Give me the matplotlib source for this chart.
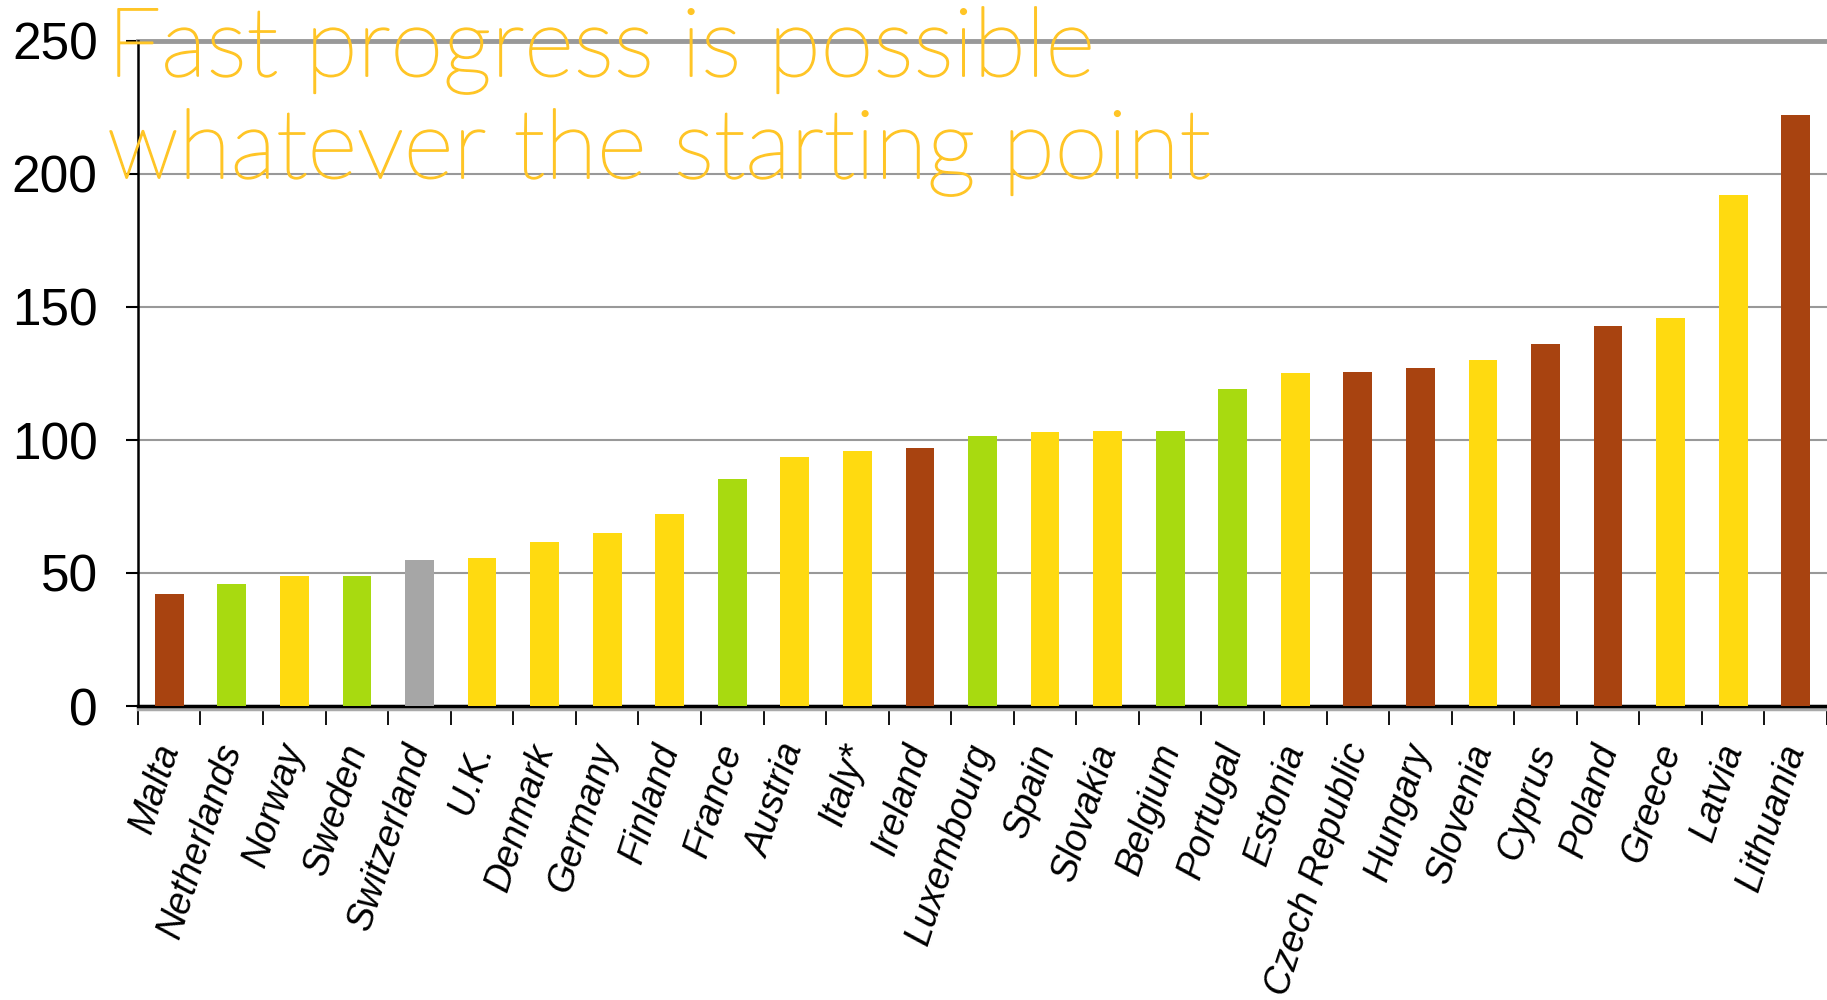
import numpy as np
import matplotlib
matplotlib.use('Agg')
import matplotlib.pyplot as plt
import matplotlib.patheffects as pe
from matplotlib import font_manager

countries = ['Malta', 'Netherlands', 'Norway', 'Sweden', 'Switzerland', 'U.K.',
             'Denmark', 'Germany', 'Finland', 'France', 'Austria', 'Italy*',
             'Ireland', 'Luxembourg', 'Spain', 'Slovakia', 'Belgium', 'Portugal',
             'Estonia', 'Czech Republic', 'Hungary', 'Slovenia', 'Cyprus',
             'Poland', 'Greece', 'Latvia', 'Lithuania']
values = [42, 46, 49, 49, 55, 55.5, 61.5, 65, 72, 85.5, 93.5, 96,
          97, 101.5, 103, 103.5, 103.5, 119, 125, 125.5, 127, 130, 136,
          143, 146, 192, 222]
groups = ['b', 'g', 'y', 'g', 's', 'y', 'y', 'y', 'y', 'g', 'y', 'y',
          'b', 'g', 'y', 'y', 'g', 'g', 'y', 'b', 'b', 'y', 'b',
          'b', 'y', 'y', 'b']
group_colors = {'b': '#A84310', 'g': '#A8DA10', 'y': '#FFDA10', 's': '#A6A6A6'}
yticks = [0, 50, 100, 150, 200, 250]
title_lines = ['Fast progress is possible', 'whatever the starting point']
title_color = '#FFC526'

# thinnest Lato face for the title (thickened a little below)
faces = [f for f in font_manager.fontManager.ttflist
         if f.name.startswith('Lato') and f.style == 'normal']
if faces:
    best = sorted(faces, key=lambda f: f.weight if isinstance(f.weight, int) else 400)[0]
    title_prop = font_manager.FontProperties(fname=best.fname)
else:
    title_prop = font_manager.FontProperties(family='DejaVu Sans')
title_prop.set_size(69)

plt.rcParams['font.family'] = ['Liberation Sans', 'DejaVu Sans']

fig = plt.figure(figsize=(18.27, 10.0), dpi=100)
ax = fig.add_axes([0.0755, 0.294, 0.9245, 0.665])

x = np.arange(len(countries))
ax.bar(x, values, width=0.46, color=[group_colors[g] for g in groups], zorder=3)

ax.set_xlim(-0.5, len(countries) - 0.5)
ax.set_ylim(0, 250)
ax.set_yticks(yticks)
ax.yaxis.grid(True, color='#999999', linewidth=1.5, zorder=0)
ax.set_axisbelow(True)

for s in ['top', 'right']:
    ax.spines[s].set_visible(False)
ax.axhline(250, color='#999999', linewidth=3.5, zorder=1, clip_on=False)
ax.axhline(-1.2, color='#aaaaaa', linewidth=2.5, zorder=1, clip_on=False)
ax.spines['left'].set_linewidth(1.8)
ax.spines['bottom'].set_linewidth(2.5)

ax.tick_params(axis='y', length=9, width=1.5, labelsize=37, pad=20)
ax.set_xticks(x)
ax.set_xticks(np.arange(-0.5, len(countries)), minor=True)
ax.tick_params(axis='x', which='major', length=0, pad=28)
ax.tick_params(axis='x', which='minor', length=14, width=1.3)
ax.set_xticklabels(countries, rotation=72, ha='right', va='center',
                   rotation_mode='anchor', fontsize=27, style='italic')

for i, line in enumerate(title_lines):
    fig.text(0.0586, 0.924 - i * 0.102, line, fontproperties=title_prop,
             color=title_color, va='baseline', ha='left', zorder=5,
             path_effects=[pe.withStroke(linewidth=1.3, foreground=title_color)])

fig.savefig('out.png', dpi=100)
